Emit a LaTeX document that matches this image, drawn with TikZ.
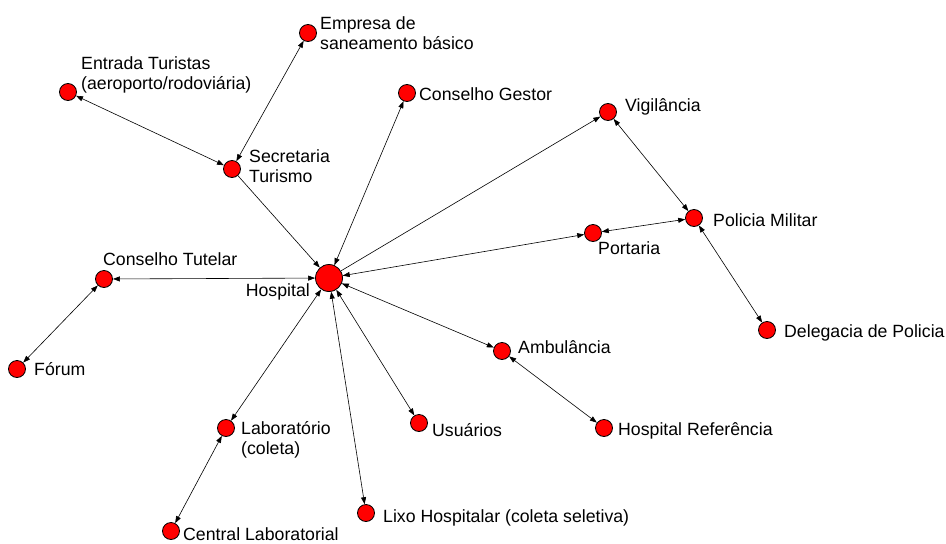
\documentclass[tikz,border=0pt]{standalone}
\usepackage{fontspec}
\setmainfont{Liberation Sans}
\usepackage{tikz}
\usetikzlibrary{arrows.meta}
\tikzset{
  pt/.style={circle,draw=black,fill=red,line width=0.8pt,minimum size=17pt,inner sep=0pt},
  hub/.style={pt,minimum size=27pt},
  lbl/.style={anchor=west,align=left,inner sep=0pt,font=\fontsize{17.7}{20.5}\selectfont},
  bi/.style={line width=0.6pt,{Triangle[length=7pt,width=5pt]}-{Triangle[length=7pt,width=5pt]}},
  uni/.style={line width=0.6pt,-{Triangle[length=7pt,width=5pt]}}
}

\begin{document}
\begin{tikzpicture}[x=1pt,y=-1pt]
\useasboundingbox (0,0) rectangle (946,544);
\node[hub] (hosp) at (329,278) {}; \node[lbl,anchor=east] (hospL) at (310,292) {Hospital};
\node[pt] (emp) at (308,33) {}; \node[lbl] (empL) at (320,33) {Empresa de\\saneamento básico};
\node[pt] (ent) at (68,92) {}; \node[lbl] (entL) at (81,75) {Entrada Turistas\\(aeroporto/rodoviária)};
\node[pt] (cges) at (407,93) {}; \node[lbl] (cgesL) at (419,94) {Conselho Gestor};
\node[pt] (sec) at (232,169) {}; \node[lbl] (secL) at (249,166) {Secretaria\\Turismo};
\node[pt] (ctut) at (104,279) {}; \node[lbl] (ctutL) at (103,259) {Conselho Tutelar};
\node[pt] (for) at (17,369) {}; \node[lbl] (forL) at (34,369) {Fórum};
\node[pt] (vig) at (608,112) {}; \node[lbl] (vigL) at (625,107) {Vigilância};
\node[pt] (pm) at (694,218) {}; \node[lbl] (pmL) at (713,220) {Policia Militar};
\node[pt] (port) at (593,233) {}; \node[lbl] (portL) at (598,248) {Portaria};
\node[pt] (del) at (767,330) {}; \node[lbl] (delL) at (784,333) {Delegacia de Policia};
\node[pt] (amb) at (502,351) {}; \node[lbl] (ambL) at (518,347) {Ambulância};
\node[pt] (usu) at (419,423) {}; \node[lbl] (usuL) at (432,430) {Usuários};
\node[pt] (href) at (604,428) {}; \node[lbl] (hrefL) at (618,431) {Hospital Referência};
\node[pt] (lixo) at (366,513) {}; \node[lbl] (lixoL) at (383,518) {Lixo Hospitalar (coleta seletiva)};
\node[pt] (lab) at (226,428) {}; \node[lbl] (labL) at (241,440) {Laboratório\\(coleta)};
\node[pt] (cent) at (171,531) {}; \node[lbl] (centL) at (183,534) {Central Laboratorial};
\draw[bi] (ent) -- (sec); \draw[bi] (emp) -- (sec); \draw[uni] (sec) -- (hosp);
\draw[bi] (cges) -- (hosp); \draw[uni] (hosp) -- (vig); \draw[bi] (port) -- (hosp);
\draw[bi] (port) -- (pm); \draw[bi] (vig) -- (pm); \draw[bi] (pm) -- (del);
\draw[bi] (hosp) -- (amb); \draw[bi] (amb) -- (href); \draw[bi] (hosp) -- (usu);
\draw[bi] (hosp) -- (lixo); \draw[bi] (hosp) -- (lab); \draw[bi] (lab) -- (cent);
\draw[bi] (ctut) -- (hosp); \draw[bi] (for) -- (ctut);
\end{tikzpicture}
\end{document}
